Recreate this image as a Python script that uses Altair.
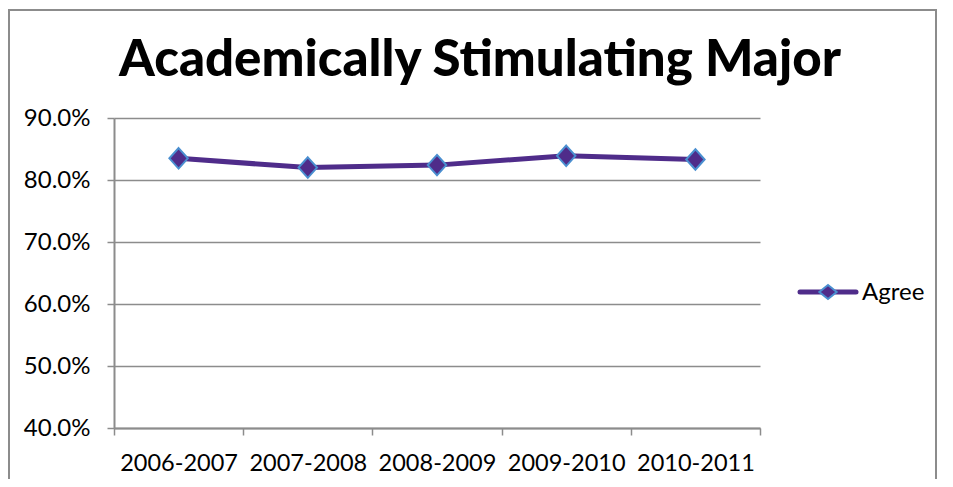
import altair as alt
import pandas as pd

years = ["2006-2007", "2007-2008", "2008-2009", "2009-2010", "2010-2011"]
agree = [0.835, 0.820, 0.824, 0.839, 0.833]
series_name = "Agree"
chart_title = "Academically Stimulating Major"
y_ticks = [0.4, 0.5, 0.6, 0.7, 0.8, 0.9]

df = pd.DataFrame({"year": years, "value": agree, "series": [series_name] * len(years)})
leg_df = pd.DataFrame({"series": [series_name], "title": [chart_title]})

FONT = "Lato"
PURPLE = "#4F2C8A"
BLUE = "#4A8FD0"
GRAY = "#8C8C8C"
DIAMOND = "M0,-1L0.9,0L0,1L-0.9,0Z"

W, H = 646, 310

xenc = alt.X("year:N", sort=years, title=None,
             scale=alt.Scale(paddingInner=0, paddingOuter=0),
             axis=alt.Axis(labelAngle=0, labelFont=FONT, labelFontSize=23.5, labelColor="black",
                           labelPadding=16, tickBand="extent", tickSize=7, tickColor=GRAY,
                           tickWidth=1.5, domainColor=GRAY, domainWidth=2, grid=False))
yenc = alt.Y("value:Q", title=None,
             scale=alt.Scale(domain=[0.4, 0.9], nice=False, zero=False),
             axis=alt.Axis(values=y_ticks, format=".1%", labelFont=FONT, labelFontSize=24,
                           labelColor="black", labelPadding=17, tickSize=7, tickColor=GRAY,
                           tickWidth=1.5, domainColor=GRAY, domainWidth=2,
                           grid=True, gridColor=GRAY, gridWidth=1.5))

line = alt.Chart(df).mark_line(color=PURPLE, strokeWidth=5).encode(x=xenc, y=yenc)
pts = alt.Chart(df).mark_point(shape=DIAMOND, size=420, filled=True, fill=PURPLE,
                               stroke=BLUE, strokeWidth=2, opacity=1).encode(x=xenc, y=yenc)

# legend (drawn manually: line with diamond + label)
LX, LY = 686, 174
leg_line = alt.Chart(leg_df).mark_rule(color=PURPLE, strokeWidth=5, strokeCap="round").encode(
    x=alt.value(LX), x2=alt.value(LX + 56), y=alt.value(LY))
leg_pt = alt.Chart(leg_df).mark_point(shape="M0,-0.8L1,0L0,0.8L-1,0Z", size=300, filled=True,
                                      fill=PURPLE, stroke=BLUE, strokeWidth=2, opacity=1).encode(
    x=alt.value(LX + 28), y=alt.value(LY))
leg_txt = alt.Chart(leg_df).mark_text(align="left", baseline="middle", font=FONT, fontSize=24,
                                      color="black").encode(
    x=alt.value(LX + 62), y=alt.value(LY + 1), text="series:N")

title = alt.Chart(leg_df).mark_text(align="center", baseline="alphabetic", font=FONT,
                                    fontSize=51, fontWeight=900, color="black").encode(
    x=alt.value(366), y=alt.value(-42), text="title:N")

border = alt.Chart(leg_df).mark_rect(fill=None, stroke=GRAY, strokeWidth=2).encode(
    x=alt.value(-105), x2=alt.value(822), y=alt.value(-108), y2=alt.value(400))

chart = alt.layer(border, title, line, pts, leg_line, leg_pt, leg_txt).properties(
    width=W, height=H,
    autosize=alt.AutoSizeParams(type="none"),
    padding={"left": 106, "top": 110, "right": 185, "bottom": 51},
).configure_view(stroke=None)

chart.save("out.html", embed_options={"renderer": "svg", "actions": False})
